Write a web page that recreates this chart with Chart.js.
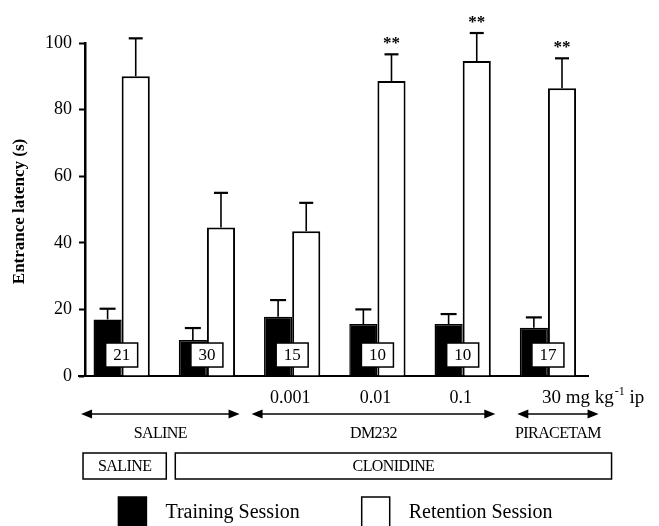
<!DOCTYPE html>
<html>
<head>
<meta charset="utf-8">
<script src="https://cdn.jsdelivr.net/npm/chart.js@4.4.1/dist/chart.umd.min.js"></script>
<style>
  html, body { margin: 0; padding: 0; background: #fff; }
  #wrap { width: 659px; height: 526px; position: relative; }
</style>
</head>
<body>
<div id="wrap"><canvas id="chart"></canvas></div>
<script>
// --- data ---
const categories = ['Saline + saline', 'Clonidine + saline', 'Clonidine + DM232 0.001',
                    'Clonidine + DM232 0.01', 'Clonidine + DM232 0.1', 'Clonidine + piracetam 30'];
const doseLabels = ['', '', '0.001', '0.01', '0.1', '30 mg kg'];
const trainingMean = [17.0, 10.8, 17.8, 15.6, 15.6, 14.5];
const trainingSem = [3.2, 3.6, 5.0, 4.4, 3.0, 3.1];
const retentionMean = [90.0, 44.6, 43.5, 88.6, 94.6, 86.4];
const retentionSem = [11.4, 10.4, 8.5, 8.0, 8.4, 9.0];
const groupSizes = [21, 30, 15, 10, 10, 17];
const significance = ['', '', '', '**', '**', '**'];
const yTicks = [0, 20, 40, 60, 80, 100];

// treatment bands under the axis
const drugLabels = ['SALINE', 'DM232', 'PIRACETAM'];
const drugFirst = [0, 2, 5];
const drugLast = [1, 4, 5];
const amnesicLabels = ['SALINE', 'CLONIDINE'];
const amnesicFirst = [0, 1];
const amnesicLast = [0, 5];

const SERIF = "'Liberation Serif', 'Times New Roman', serif";

function arrowHead(ctx, x, y, dir) {
    ctx.beginPath();
    ctx.moveTo(x, y);
    ctx.lineTo(x - dir * 11, y - 4.5);
    ctx.lineTo(x - dir * 11, y + 4.5);
    ctx.closePath();
    ctx.fill();
}

// draws error bars, n boxes, significance stars and everything below the axis
const annotatePlugin = {
    id: 'annotate',
    afterDatasetsDraw(chart) {
        const {ctx, scales: {x, y}} = chart;
        ctx.save();
        ctx.strokeStyle = '#000';
        ctx.fillStyle = '#000';

        // error bars (upper half only)
        [[trainingMean, trainingSem, 0, 16], [retentionMean, retentionSem, 1, 14]].forEach(([mean, sem, ds, cap]) => {
            const meta = chart.getDatasetMeta(ds);
            meta.data.forEach((bar, i) => {
                const top = y.getPixelForValue(mean[i] + sem[i]);
                const base = y.getPixelForValue(mean[i]);
                ctx.lineWidth = 1.6;
                ctx.beginPath();
                ctx.moveTo(bar.x, base);
                ctx.lineTo(bar.x, top);
                ctx.stroke();
                ctx.lineWidth = 2.2;
                ctx.beginPath();
                ctx.moveTo(bar.x - cap / 2, top);
                ctx.lineTo(bar.x + cap / 2, top);
                ctx.stroke();
                if (ds === 1 && significance[i]) {
                    ctx.font = 'bold 17px ' + SERIF;
                    ctx.textAlign = 'center';
                    ctx.textBaseline = 'alphabetic';
                    ctx.fillText(significance[i], bar.x, top - 6);
                }
            });
        });

        // group size boxes
        groupSizes.forEach((n, i) => {
            const cx = x.getPixelForValue(i);
            const cy = y.getPixelForValue(6.3);
            ctx.fillStyle = '#fff';
            ctx.fillRect(cx - 16, cy - 12, 32, 24);
            ctx.lineWidth = 1.5;
            ctx.strokeRect(cx - 16, cy - 12, 32, 24);
            ctx.fillStyle = '#000';
            ctx.font = '17px ' + SERIF;
            ctx.textAlign = 'center';
            ctx.textBaseline = 'middle';
            ctx.fillText(String(n), cx, cy + 1);
        });
        ctx.restore();
    },
    afterDraw(chart) {
        const {ctx, chartArea, scales: {x, y}} = chart;
        const half = (x.getPixelForValue(1) - x.getPixelForValue(0)) / 2;
        ctx.save();
        ctx.fillStyle = '#000';
        ctx.strokeStyle = '#000';

        // x axis runs a bit past the y axis
        ctx.lineWidth = 2;
        ctx.beginPath();
        ctx.moveTo(chartArea.left - 7, y.bottom);
        ctx.lineTo(chartArea.left, y.bottom);
        ctx.stroke();

        // y axis title
        ctx.save();
        ctx.translate(20, (chartArea.top + chartArea.bottom) / 2 + 2);
        ctx.rotate(-Math.PI / 2);
        ctx.font = 'bold 17px ' + SERIF;
        ctx.textAlign = 'center';
        ctx.textBaseline = 'middle';
        ctx.fillText('Entrance latency (s)', 0, 0);
        ctx.restore();

        // dose labels
        ctx.font = '18px ' + SERIF;
        ctx.textBaseline = 'middle';
        doseLabels.forEach((lab, i) => {
            if (!lab) return;
            const cx = x.getPixelForValue(i);
            if (i === doseLabels.length - 1) {
                ctx.textAlign = 'left';
                ctx.font = '19px ' + SERIF;
                let px = cx - 6;
                ctx.fillText(lab, px, 398);
                px += ctx.measureText(lab).width;
                ctx.font = '12px ' + SERIF;
                ctx.fillText('-1', px + 1, 392);
                px += ctx.measureText('-1').width + 1;
                ctx.font = '19px ' + SERIF;
                ctx.fillText(' ip', px, 398);
            } else {
                ctx.textAlign = 'center';
                ctx.fillText(lab, cx - 2, 398);
            }
        });

        // pretreatment arrows
        ctx.letterSpacing = '-0.6px';
        drugLabels.forEach((lab, i) => {
            let l = x.getPixelForValue(drugFirst[i]) - half + 2;
            let r = x.getPixelForValue(drugLast[i]) + half - 10;
            if (drugFirst[i] === drugLast[i]) { l += 10; r += 18; }
            const ay = 414;
            ctx.lineWidth = 1.5;
            ctx.beginPath();
            ctx.moveTo(l + 4, ay);
            ctx.lineTo(r - 4, ay);
            ctx.stroke();
            arrowHead(ctx, l, ay, -1);
            arrowHead(ctx, r, ay, 1);
            ctx.font = '16px ' + SERIF;
            ctx.textAlign = 'center';
            ctx.textBaseline = 'middle';
            ctx.fillText(lab, (l + r) / 2, 434);
        });

        // amnesic treatment boxes
        amnesicLabels.forEach((lab, i) => {
            let l = x.getPixelForValue(amnesicFirst[i]) - half;
            let r = x.getPixelForValue(amnesicLast[i]) + half;
            if (i === 0) { l += 4; r += 2; } else { l += 11; r += 21; }
            ctx.lineWidth = 1.5;
            ctx.strokeRect(l, 453, r - l, 26);
            ctx.font = '16px ' + SERIF;
            ctx.textAlign = 'center';
            ctx.textBaseline = 'middle';
            ctx.fillText(lab, (l + r) / 2, 467);
        });
        ctx.letterSpacing = '0px';

        // legend
        const items = chart.data.datasets.map(d => ({label: d.label, fill: d.backgroundColor}));
        ctx.font = '20px ' + SERIF;
        const box = 30, gapText = 19, gapItem = 60;
        const widths = items.map(it => box + gapText + ctx.measureText(it.label).width);
        const total = widths.reduce((a, b) => a + b, 0) + gapItem * (items.length - 1);
        let lx = (chartArea.left + chartArea.right) / 2 - total / 2;
        items.forEach((it, i) => {
            ctx.fillStyle = it.fill;
            ctx.fillRect(lx, 497, box - 2, 32);
            ctx.lineWidth = 1.5;
            ctx.strokeRect(lx, 497, box - 2, 32);
            ctx.fillStyle = '#000';
            ctx.textAlign = 'left';
            ctx.textBaseline = 'middle';
            ctx.fillText(it.label, lx + box + gapText - 2, 513);
            lx += widths[i] + gapItem;
        });
        ctx.restore();
    }
};

// bars sit on integer positions of a linear x scale so the first group
// can start slightly left of the y axis, as in the original figure
const toPoints = arr => arr.map((v, i) => ({x: i, y: v}));

new Chart(document.getElementById('chart'), {
    type: 'bar',
    data: {
        labels: categories,
        datasets: [
            {
                label: 'Training Session',
                data: toPoints(trainingMean),
                backgroundColor: '#000',
                borderColor: '#000',
                borderWidth: 1.5,
                barPercentage: 1,
                categoryPercentage: 0.66
            },
            {
                label: 'Retention Session',
                data: toPoints(retentionMean),
                backgroundColor: '#fff',
                borderColor: '#000',
                borderWidth: 2,
                barPercentage: 1,
                categoryPercentage: 0.66
            }
        ]
    },
    options: {
        responsive: true,
        maintainAspectRatio: false,
        animation: false,
        layout: { padding: { top: 43, right: 71, left: 0, bottom: 0 } },
        plugins: { legend: { display: false }, tooltip: { enabled: false } },
        scales: {
            x: {
                type: 'linear',
                min: -0.43,
                max: 5.47,
                offset: false,
                grid: { display: false },
                border: { display: true, color: '#000', width: 2 },
                ticks: { display: false },
                afterFit(scale) { scale.height = 150; }
            },
            y: {
                min: 0,
                max: 100,
                afterBuildTicks(scale) { scale.ticks = yTicks.map(v => ({value: v})); },
                grid: { drawOnChartArea: false, drawTicks: true, tickLength: 6, tickWidth: 2, tickColor: '#000' },
                border: { display: true, color: '#000', width: 2.5 },
                ticks: { color: '#000', padding: 7, font: { family: SERIF, size: 18 } },
                afterFit(scale) { scale.width = 85; }
            }
        }
    },
    plugins: [annotatePlugin]
});
</script>
</body>
</html>
